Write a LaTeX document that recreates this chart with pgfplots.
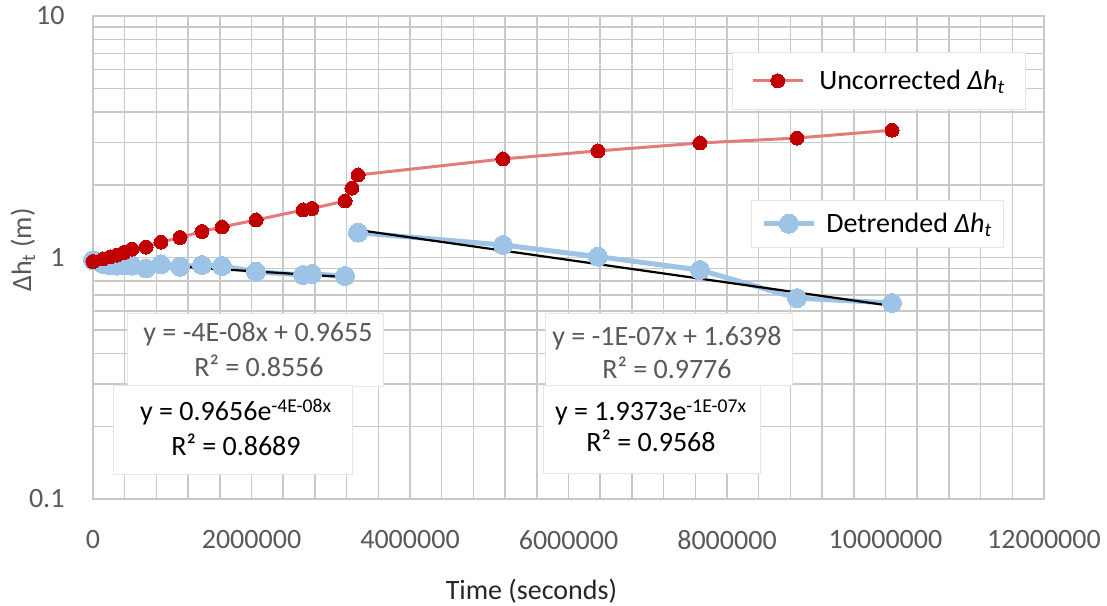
\documentclass[border=0pt]{standalone}
\usepackage{fontspec}
\setmainfont{Carlito}
\usepackage{pgfplots}
\usepackage{pgfplotstable}
\pgfplotsset{compat=1.18}
\definecolor{redpt}{HTML}{C00000}
\definecolor{redln}{HTML}{E37B7B}
\definecolor{bluept}{HTML}{9DC3E6}
\definecolor{gridc}{HTML}{C9C9C9}
\definecolor{tickc}{HTML}{595959}
\definecolor{boxc}{HTML}{E6E6E6}

% uncorrected series
\pgfplotstableread{
x y
0 0.962
126000 0.986
215000 1.005
303000 1.024
391000 1.049
492000 1.084
669000 1.105
858000 1.159
1098000 1.210
1375000 1.281
1628000 1.338
2057000 1.430
2650000 1.573
2763000 1.596
3180000 1.714
3268000 1.940
3344000 2.196
5173000 2.559
6372000 2.763
7659000 2.980
8883000 3.124
10082000 3.367
}\redtab

% detrended, before and after the jump
\pgfplotstableread{
x y
0 0.975
126000 0.940
215000 0.930
303000 0.925
391000 0.930
492000 0.925
669000 0.902
858000 0.937
1098000 0.916
1375000 0.931
1628000 0.922
2057000 0.873
2650000 0.846
2763000 0.855
3180000 0.838
}\blueA
\pgfplotstableread{
x y
3344000 1.267
5173000 1.127
6372000 1.008
7659000 0.888
8883000 0.679
10082000 0.648
}\blueB

\newcommand{\bigf}{\fontsize{28bp}{33bp}\selectfont}
\newcommand{\dht}{{\itshape Δh\textsubscript{t}}}

\pgfplotsset{
  myred/.style={redln, line width=3bp, mark=*, mark size=7bp,
    mark options={draw=redpt, fill=redpt, solid, line width=0pt}},
  myblue/.style={bluept, line width=5bp, mark=*, mark size=9.5bp,
    mark options={draw=bluept, fill=bluept, solid, line width=0pt}},
}

\begin{document}
\begin{tikzpicture}
\path[use as bounding box] (-93bp,-107bp) rectangle (1014bp,499bp);
\begin{axis}[at={(0bp,0bp)}, anchor=south west, scale only axis,
  width=951bp, height=483bp, xmin=0, xmax=12000000,
  ymode=log, ymin=0.1, ymax=10,
  xtick={0,2000000,4000000,6000000,8000000,10000000,12000000},
  xticklabels={0,2000000,4000000,6000000,8000000,10000000,12000000},
  scaled x ticks=false,
  minor x tick num=4,
  ytick={0.1,1,10}, yticklabels={0.1,1,10},
  grid=both,
  major grid style={gridc, line width=1.5bp},
  minor grid style={gridc, line width=1.5bp},
  axis line style={gridc, line width=1.5bp},
  major tick length=0pt, minor tick length=0pt,
  tick label style={font=\bigf, text=tickc},
  xticklabel style={yshift=-28bp},
  yticklabel style={xshift=-25bp},
  xlabel={Time (seconds)},
  xlabel style={font=\bigf, text=black!85, at={(axis description cs:0.461,-0.19)}, anchor=center},
  ylabel={Δh\textsubscript{t} (m)},
  ylabel style={font=\bigf, text=tickc, at={(axis description cs:-0.0737,0.5155)}, anchor=center},
  legend style={at={(0.692,0.619)}, anchor=north west, draw=boxc, fill=white,
    font=\bigf, inner xsep=10bp, inner ysep=11bp,
    /tikz/every odd column/.append style={column sep=8bp}},
  legend cell align=left,
  legend image code/.code={
    \draw[#1, mark repeat=2, mark phase=2] plot coordinates {(0bp,0bp) (25bp,0bp) (50bp,0bp)};},
]
\addplot[myblue] table {\blueA};
\addlegendentry{Detrended \dht}
\addplot[myblue, forget plot] table {\blueB};
\addplot[black, line width=2.2bp, forget plot] coordinates {(0,0.9656) (3180000,0.83)};
\addplot[black, line width=2.2bp, forget plot] coordinates {(3344000,1.30) (10082000,0.63)};
\addplot[myred, forget plot] table {\redtab};
\end{axis}
\begin{axis}[at={(0bp,0bp)}, anchor=south west, scale only axis,
  width=951bp, height=483bp, xmin=0, xmax=12000000,
  ymode=log, ymin=0.1, ymax=10, hide axis,
  legend style={at={(0.672,0.925)}, anchor=north west, draw=boxc, fill=white,
    font=\bigf, inner xsep=19bp, inner ysep=16bp,
    /tikz/every odd column/.append style={column sep=13bp}},
  legend cell align=left,
  legend image code/.code={
    \draw[#1, mark repeat=2, mark phase=2] plot coordinates {(0bp,0bp) (25bp,0bp) (50bp,0bp)};},
]
\addlegendimage{myred}
\addlegendentry{Uncorrected \dht}
\end{axis}
% trendline labels
\begin{scope}[every node/.style={font=\bigf, inner sep=0pt}]
\filldraw[draw=boxc, fill=white] (34bp,113bp) rectangle (290bp,186bp);
\node[text=tickc, anchor=base] at (165bp,157bp) {y = -4E-08x + 0.9655};
\node[text=tickc, anchor=base] at (166bp,122bp) {R² = 0.8556};
\filldraw[draw=boxc, fill=white] (20bp,25bp) rectangle (259bp,114bp);
\node[anchor=base west] at (47bp,78bp) {y = 0.9656e\textsuperscript{-4E-08x}};
\node[anchor=base] at (143bp,43bp) {R² = 0.8689};
\filldraw[draw=boxc, fill=white] (452bp,114bp) rectangle (699bp,186bp);
\node[text=tickc, anchor=base] at (574bp,153bp) {y = -1E-07x + 1.6398};
\node[text=tickc, anchor=base] at (574bp,120bp) {R² = 0.9776};
\filldraw[draw=boxc, fill=white] (450bp,26bp) rectangle (667bp,114bp);
\node[anchor=base west] at (462bp,78bp) {y = 1.9373e\textsuperscript{-1E-07x}};
\node[anchor=base] at (558bp,47bp) {R² = 0.9568};
\end{scope}
\end{tikzpicture}
\end{document}
